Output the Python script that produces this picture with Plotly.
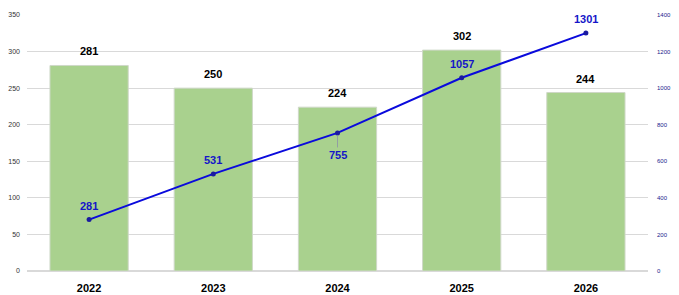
import plotly.graph_objects as go

years = ["2022", "2023", "2024", "2025", "2026"]
bar_values = [281, 250, 224, 302, 244]
line_values = [281, 531, 755, 1057, 1301]
line_label_below = [False, False, True, False, False]

FONT = "Liberation Sans, Arial"

fig = go.Figure()
fig.add_trace(go.Bar(
    x=years, y=bar_values,
    marker=dict(color="#a9d18e", line=dict(color="#cfd8c8", width=1)),
    width=0.63, hoverinfo="y",
))
fig.add_trace(go.Scatter(
    x=years, y=line_values, yaxis="y2",
    mode="lines+markers",
    line=dict(color="#0a0adc", width=2),
    marker=dict(color="#1a1aa0", size=5),
    cliponaxis=False,
))

annotations = []
# category axis positions are the category indices
for i, v in enumerate(bar_values):
    annotations.append(dict(
        x=i, y=v, xref="x", yref="y", text=f"<b>{v}</b>", showarrow=False,
        yshift=14, font=dict(family=FONT, size=11, color="#000000"),
    ))
for i, (v, below) in enumerate(zip(line_values, line_label_below)):
    if below:
        annotations.append(dict(
            x=i, y=v, xref="x", yref="y2", text=f"<b>{v}</b>", showarrow=True,
            arrowhead=0, arrowwidth=0.7, arrowcolor="#8888aa", ax=0, ay=22,
            standoff=2, font=dict(family=FONT, size=11, color="#1515c8"),
        ))
    else:
        annotations.append(dict(
            x=i, y=v, xref="x", yref="y2", text=f"<b>{v}</b>", showarrow=False,
            yshift=14, font=dict(family=FONT, size=11, color="#1515c8"),
        ))

fig.update_layout(
    width=679, height=295,
    margin=dict(l=27, r=31, t=15, b=24),
    paper_bgcolor="white", plot_bgcolor="white",
    showlegend=False,
    bargap=0.37,
    annotations=annotations,
    xaxis=dict(
        type="category", showgrid=False, showline=False, zeroline=False,
        tickfont=dict(family=FONT, size=11, color="#000000", weight="bold"),
        ticks="outside", ticklen=7, tickcolor="rgba(0,0,0,0)", automargin=False,
    ),
    yaxis=dict(
        range=[0, 350], dtick=50, showgrid=True, gridcolor="#d9d9d9", gridwidth=1,
        zeroline=True, zerolinecolor="#d9d9d9", showline=False,
        tickfont=dict(family=FONT, size=7, color="#333333"),
        ticklabelstandoff=6, automargin=False,
    ),
    yaxis2=dict(
        range=[0, 1400], dtick=200, overlaying="y", side="right",
        showgrid=False, zeroline=False, showline=False,
        tickfont=dict(family=FONT, size=6, color="#1a1a8c"),
        ticklabelstandoff=8, automargin=False,
    ),
)
fig.write_html("out.html")
